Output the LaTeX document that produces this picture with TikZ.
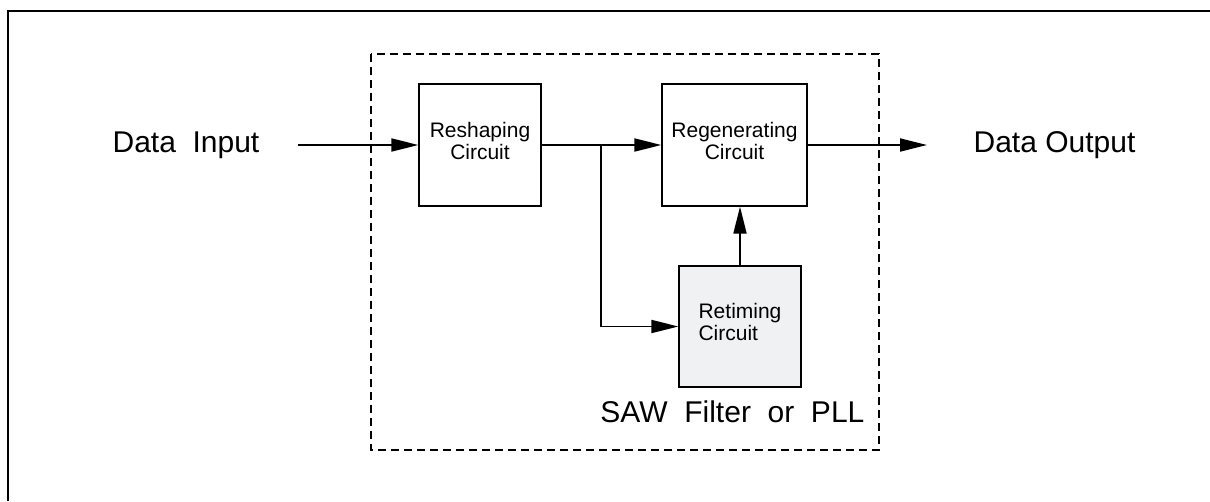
\documentclass[tikz,border=0pt]{standalone}
\usepackage{fontspec}
\setmainfont{Liberation Sans}
\usetikzlibrary{arrows.meta}
\definecolor{retimegray}{RGB}{240,241,243}
\tikzset{every picture/.style={line width=1.2pt}}

\begin{document}
\begin{tikzpicture}[x=1pt,y=1pt,yscale=-1,
  circuitbox/.style={draw,line width=1.3pt,minimum width=122pt,minimum height=122pt,inner sep=0pt,text depth=9pt,font=\fontsize{21}{22}\selectfont,align=center},
  sig/.style={line width=1.8pt,-{Triangle[length=27pt,width=13pt]}},
  bigtext/.style={font=\fontsize{30}{32}\selectfont,inner sep=0pt}]
\useasboundingbox (0,0) rectangle (1210,501);

%Frame
\draw [line width=1.3pt] (8,501) -- (8,11) -- (1210,11);
%Dashed box
\draw [line width=1.3pt, dash pattern={on 8pt off 5pt}] (371,54) rectangle (879,450);

% Blocks
\node [circuitbox] (reshape) at (480,145) {Reshaping\\Circuit};
\node [circuitbox, minimum width=145pt] (regen) at (734.5,145) {Regenerating\\Circuit};
\node [circuitbox, minimum height=121pt, fill=retimegray, align=left] (retime) at (740,326.5) {Retiming\\Circuit};

% Text Node
\node [bigtext, anchor=west] (din) at (112,145) {Data~~Input};
% Text Node
\node [bigtext, anchor=west] (dout) at (973,145) {Data Output};
% Text Node
\node [bigtext, anchor=base east] (saw) at (865,422) {SAW~~Filter~~or~~PLL};

% Connectors
\coordinate (inStart) at (298,145);
\coordinate (outEnd) at (927,145);
\coordinate (branch) at (601,145);
\draw [sig] (inStart) -- (reshape.west);
\draw [line width=1.8pt] (reshape.east) -- (branch);
\draw [sig] (branch) -- (regen.west);
\draw [sig] (branch) |- (retime.west);
\draw [sig] (retime.north) -- (retime.north |- regen.south);
\draw [sig] (regen.east) -- (outEnd);

\end{tikzpicture}
\end{document}
